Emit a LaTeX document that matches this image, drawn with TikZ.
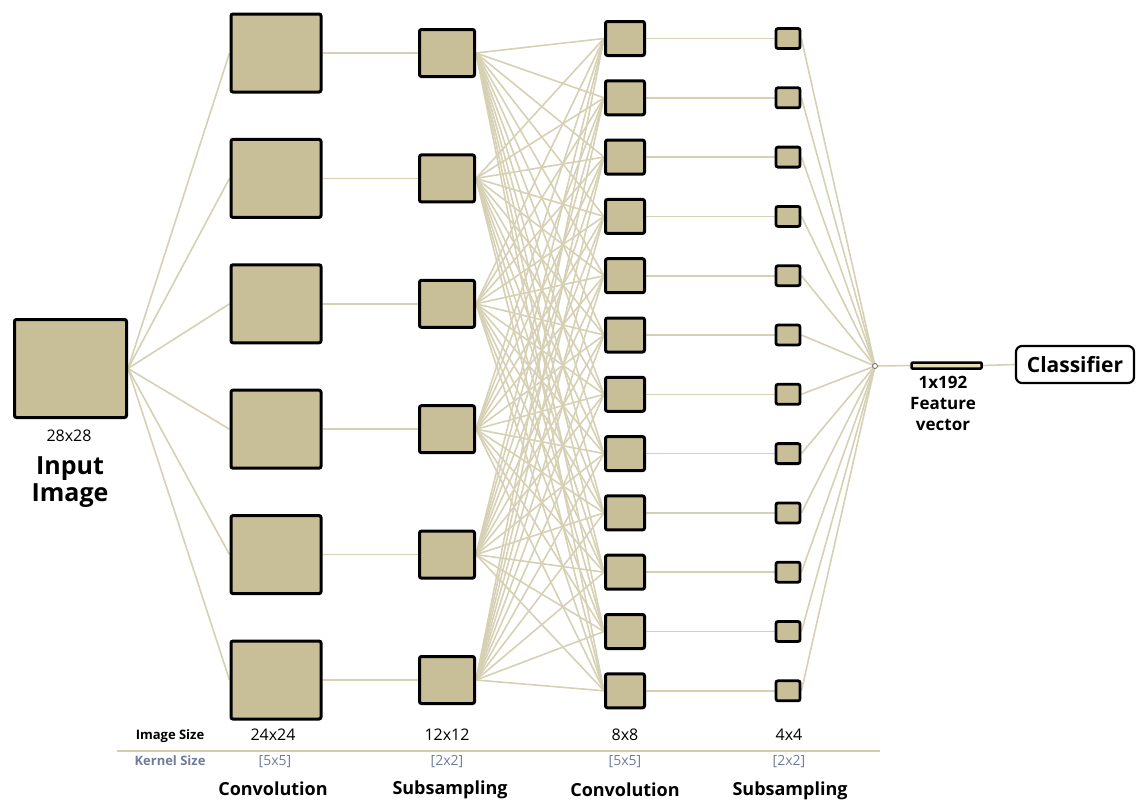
\documentclass[tikz,border=0pt]{standalone}
\usepackage{fontspec}
\setmainfont{Open Sans}
\usetikzlibrary{backgrounds}
\definecolor{tanfill}{HTML}{C8BF99}
\definecolor{linec}{HTML}{D6D0B4}
\definecolor{rulec}{HTML}{D2CCAA}
\definecolor{fvfill}{HTML}{E6DEB0}
\definecolor{kernc}{HTML}{6F7C99}
\begin{document}
\begin{tikzpicture}[x=1pt,y=-1pt,
  fmap/.style={draw=black,line width=3pt,fill=tanfill,rounded corners=2pt,inner sep=0pt},
  conn/.style={draw=linec,line width=1.6pt},
  lbl/.style={inner sep=0pt,font=\fontsize{16}{18}\selectfont},
  kern/.style={inner sep=0pt,text=kernc,font=\fontsize{14}{16}\selectfont},
  head/.style={inner sep=0pt,font=\bfseries\fontsize{18}{20}\selectfont}]
\useasboundingbox (0,0) rectangle (1137,803);
% feature maps
\node[fmap,minimum width=112pt,minimum height=98pt] (in) at (70.5,368.5) {};
\foreach \i in {0,...,5} {
  \pgfmathsetmacro\yy{53+125.4*\i}
  \node[fmap,minimum width=90pt,minimum height=78pt] (c1-\i) at (276,\yy) {};
  \node[fmap,minimum width=55pt,minimum height=47pt] (s1-\i) at (447,\yy) {};
}
\foreach \j in {0,...,11} {
  \pgfmathsetmacro\yy{38.5+59.3*\j}
  \node[fmap,minimum width=39pt,minimum height=34pt] (c2-\j) at (625,\yy) {};
  \node[fmap,line width=2.8pt,minimum width=24pt,minimum height=20pt] (s2-\j) at (788,\yy) {};
}
\node[circle,draw=black!60,line width=0.8pt,fill=white,inner sep=0pt,minimum size=5pt] (m) at (875,366) {};
\node[draw=black,line width=2.5pt,fill=fvfill,rounded corners=1pt,inner sep=0pt,minimum width=70pt,minimum height=6pt] (fv) at (946.5,365.5) {};
\node[draw=black,line width=2.2pt,rounded corners=6pt,inner sep=0pt,minimum width=118pt,minimum height=37pt,font=\bfseries\fontsize{21}{24}\selectfont] (cl) at (1075,364.5) {Classifier};
% connectors
\begin{scope}[on background layer]
  \foreach \i in {0,...,5} {
    \draw[conn] (in.east) -- (c1-\i.west);
    \draw[conn] (c1-\i.east) -- (s1-\i.west);
    \foreach \j in {0,...,11} {
      \draw[conn] (s1-\i.east) -- (c2-\j.west);
    }
  }
  \foreach \j in {0,...,11} {
    \draw[conn] (c2-\j.east) -- (s2-\j.west);
    \draw[conn] (s2-\j.east) -- (m.center);
  }
  \draw[conn] (m) -- (fv.west);
  \draw[conn] (fv.east) -- (cl.west);
\end{scope}
% labels
\node[lbl] (t28) at (69,436) {28x28};
\node[inner sep=0pt,align=center,font=\bfseries\fontsize{25}{27}\selectfont] (tin) at (70,482) {Input\\Image};
\node[inner sep=0pt,align=center,font=\bfseries\fontsize{17}{21}\selectfont] (tfv) at (943,403) {1x192\\Feature\\vector};
\node[inner sep=0pt,font=\bfseries\fontsize{13}{15}\selectfont] (tis) at (170,736) {Image Size};
\node[inner sep=0pt,text=kernc,font=\bfseries\fontsize{13}{15}\selectfont] (tks) at (170,761) {Kernel Size};
\draw[rulec,line width=1.6pt] (117,751) -- (880,751);
\node[lbl] (a1) at (273,735) {24x24};
\node[lbl] (a2) at (447,735) {12x12};
\node[lbl] (a3) at (625,735) {8x8};
\node[lbl] (a4) at (789,735) {4x4};
\node[kern] (k1) at (275,762) {[5x5]};
\node[kern] (k2) at (447,762) {[2x2]};
\node[kern] (k3) at (625,762) {[5x5]};
\node[kern] (k4) at (789,762) {[2x2]};
\node[head] (h1) at (273,789) {Convolution};
\node[head] (h2) at (450,790) {Subsampling};
\node[head] (h3) at (625,790) {Convolution};
\node[head] (h4) at (790,791) {Subsampling};
\end{tikzpicture}
\end{document}
